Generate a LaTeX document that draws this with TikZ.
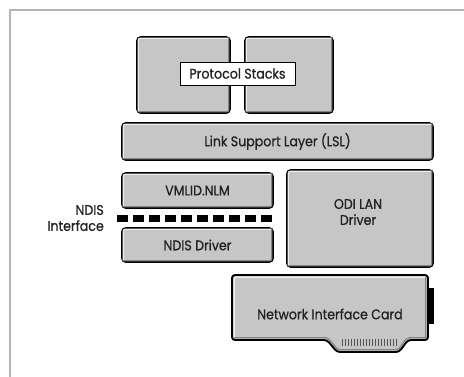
\documentclass[tikz,border=0pt]{standalone}
\usepackage{fontspec}
\newfontfamily\labelfont[FakeStretch=0.9, FakeBold=0.8]{Poppins}
\definecolor{panel}{HTML}{C6C6C6}
\definecolor{rimlight}{HTML}{EEEEEE}
\definecolor{rimdark}{HTML}{858585}
\definecolor{teeth}{HTML}{555555}
\definecolor{frameline}{HTML}{B4B4B4}
\definecolor{ink}{HTML}{222222}
\tikzset{
  lbl/.style={font=\labelfont\fontsize{14}{16}\selectfont, text=ink, align=center, inner sep=0pt},
  bevel/.style={lbl, draw=black, line width=1.9pt, fill=panel, rounded corners=4pt},
  litedge/.style={draw=rimlight, line width=1.2pt, rounded corners=2pt},
  darkedge/.style={draw=rimdark, line width=1.2pt, rounded corners=2pt},
  tag/.style={lbl, draw=black, line width=0.8pt, fill=white},
  gateway/.style={line width=7pt, dash pattern=on 11pt off 5pt},
}
\newcommand\raisedrim[1]{%
  \draw[litedge] ([shift={(2.2pt,2.2pt)}]#1.south west) |- ([shift={(-2.2pt,-2.2pt)}]#1.north east);
  \draw[darkedge] ([shift={(2.2pt,2.2pt)}]#1.south west) -| ([shift={(-2.2pt,-2.2pt)}]#1.north east);
}
\begin{document}
\begin{tikzpicture}[x=1pt, y=-1pt]
  \useasboundingbox (0,0) rectangle (464,377);
  % page frame
  \draw[frameline, line width=1.6pt] (464,10.2) -- (10.2,10.2) -- (10.2,377);

  % protocol stacks
  \node[bevel, minimum width=93pt, minimum height=76pt] (stackA) at (183.5,75) {};
  \node[bevel, minimum width=88pt, minimum height=76pt] (stackB) at (289,75) {};
  \raisedrim{stackA}
  \raisedrim{stackB}
  \node[tag, minimum width=115pt, minimum height=23pt] (stacks) at (237.5,73.5) {Protocol Stacks};

  % link support layer
  \node[bevel, minimum width=311pt, minimum height=37pt] (lsl) at (277.5,141.5) {Link Support Layer (LSL)};
  \raisedrim{lsl}

  % drivers
  \node[bevel, minimum width=151pt, minimum height=35pt] (vmlid) at (197.5,190.5) {VMLID.NLM};
  \node[bevel, minimum width=151pt, minimum height=34pt] (ndis) at (197.5,245) {NDIS Driver};
  \node[bevel, minimum width=146pt, minimum height=97pt] (odi) at (360,218.5) {};
  \raisedrim{vmlid}
  \raisedrim{ndis}
  \raisedrim{odi}
  \node[lbl] (oditext) at (358,212) {ODI LAN\\Driver};

  % NDIS interface boundary
  \coordinate (ifL) at (117,218.5);
  \coordinate (ifR) at (274,218.5);
  \draw[gateway] (ifL) -- (ifR);
  \node[lbl, anchor=east, align=right] (iflabel) at (104,218) {NDIS\\Interface};

  % network interface card
  \fill[black] (424,288) rectangle (434,324);
  \draw[black, line width=1.9pt, fill=panel, rounded corners=3pt]
    (232,275) -- (428,275) -- (428,340) -- (408,340) -- (399,352) -- (337,352) -- (327,340) -- (232,340) -- cycle;
  \draw[litedge] (234.2,337.8) -- (234.2,277.2) -- (425.8,277.2);
  \draw[darkedge] (425.8,277.2) -- (425.8,337.8) -- (407,337.8) -- (398,349.8) -- (338,349.8) -- (328,337.8) -- (234.2,337.8);
  \foreach \tx in {342,345,...,396}
    \draw[teeth, line width=0.9pt] (\tx,339) -- (\tx,346);
  \node[lbl] (nic) at (330,314) {Network Interface Card};
\end{tikzpicture}
\end{document}
